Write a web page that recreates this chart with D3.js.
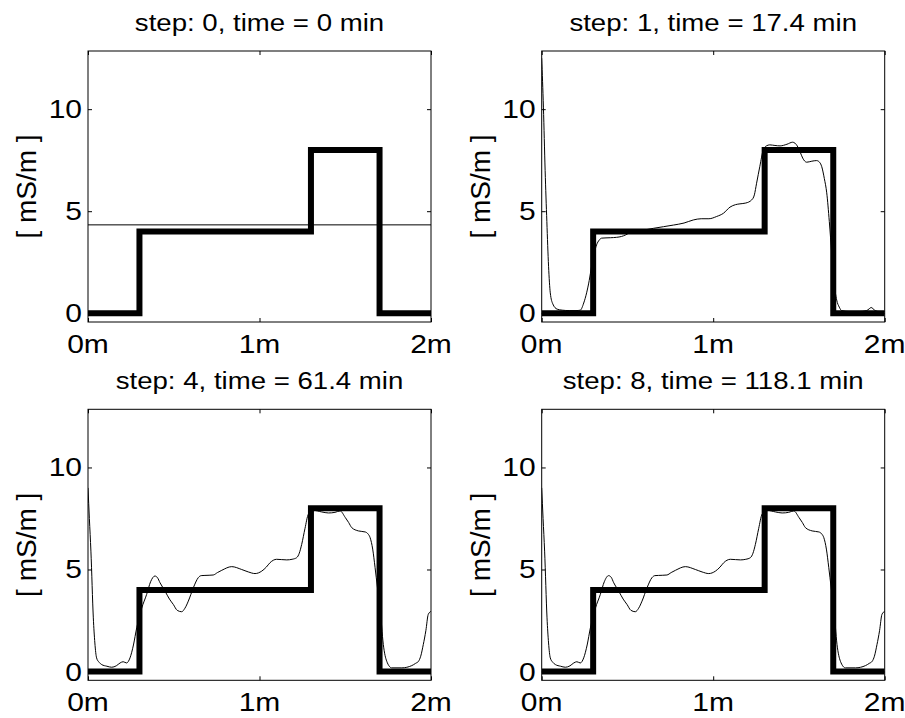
<!DOCTYPE html>
<html>
<head>
<meta charset="utf-8">
<script src="https://cdn.jsdelivr.net/npm/d3@7"></script>
<style>
  html, body { margin: 0; padding: 0; background: #fff; }
  svg { display: block; }
  text { font-family: "Liberation Sans", Arial, Helvetica, sans-serif; fill: #000; }
</style>
</head>
<body>
<svg id="chart" width="905" height="718"></svg>
<script>
// ---------------- data ----------------
const panelTitles = ["step: 0, time = 0 min", "step: 1, time = 17.4 min",
                     "step: 4, time = 61.4 min", "step: 8, time = 118.1 min"];
const yLabel = "[ mS/m ]";
const xTickValues = [0, 1, 2];
const xTickLabels = ["0m", "1m", "2m"];
const yTickValues = [0, 5, 10];
const yTickLabels = ["0", "5", "10"];

// true model (step function, value holds until the next breakpoint)
const trueX = [0, 0.3, 1.3, 1.7, 2];
const trueV = [0, 4, 8, 0, 0];

// reconstructions
const recon0X = [0, 2];
const recon0V = [4.33, 4.33];

const recon1X = [0, 0.01, 0.02, 0.03, 0.04, 0.05, 0.065, 0.09, 0.12, 0.16, 0.2, 0.225, 0.245, 0.262, 0.277, 0.291, 0.305, 0.32, 0.335, 0.35, 0.40, 0.437, 0.465, 0.49, 0.515, 0.58, 0.651, 0.71, 0.768, 0.83, 0.884, 0.93, 0.975, 1.02, 1.06, 1.098, 1.13, 1.156, 1.19, 1.224, 1.24, 1.253, 1.272, 1.292, 1.31, 1.33, 1.36, 1.39, 1.43, 1.463, 1.49, 1.507, 1.522, 1.545, 1.575, 1.603, 1.62, 1.633, 1.648, 1.662, 1.677, 1.691, 1.705, 1.72, 1.735, 1.749, 1.798, 1.85, 1.895, 1.91, 1.921, 1.932, 1.944, 1.97, 2.0];
const recon1V = [12.5, 10.1, 7.0, 4.5, 2.3, 1.0, 0.45, 0.2, 0.15, 0.13, 0.13, 0.15, 0.5, 1.0, 1.6, 2.3, 2.9, 3.35, 3.58, 3.68, 3.7, 3.72, 3.76, 3.84, 3.95, 4.05, 4.16, 4.24, 4.32, 4.42, 4.57, 4.63, 4.63, 4.74, 4.9, 5.2, 5.32, 5.36, 5.4, 5.55, 5.8, 6.37, 7.2, 8.0, 8.2, 8.25, 8.22, 8.2, 8.28, 8.38, 8.2, 7.9, 7.6, 7.4, 7.45, 7.48, 7.4, 7.18, 6.6, 5.9, 4.5, 2.94, 1.5, 0.65, 0.3, 0.13, 0.08, 0.08, 0.13, 0.22, 0.28, 0.22, 0.13, 0.08, 0.08];

const recon4X = [0, 0.008, 0.017, 0.031, 0.04, 0.05, 0.065, 0.08, 0.11, 0.138, 0.165, 0.187, 0.205, 0.225, 0.245, 0.265, 0.284, 0.3, 0.313, 0.342, 0.365, 0.39, 0.405, 0.42, 0.449, 0.475, 0.498, 0.52, 0.546, 0.565, 0.585, 0.614, 0.643, 0.66, 0.682, 0.73, 0.755, 0.78, 0.838, 0.896, 0.935, 0.974, 1.013, 1.04, 1.061, 1.1, 1.159, 1.19, 1.217, 1.232, 1.246, 1.265, 1.285, 1.314, 1.363, 1.402, 1.44, 1.47, 1.5, 1.52, 1.538, 1.577, 1.616, 1.632, 1.645, 1.66, 1.674, 1.688, 1.703, 1.722, 1.742, 1.771, 1.83, 1.888, 1.91, 1.927, 1.94, 1.955, 1.97, 1.984, 2.0];
const recon4V = [9.0, 7.5, 5.9, 2.63, 1.4, 0.67, 0.45, 0.34, 0.26, 0.21, 0.28, 0.42, 0.48, 0.42, 0.67, 1.3, 2.14, 2.7, 3.1, 3.78, 4.4, 4.68, 4.6, 4.35, 3.94, 3.55, 3.28, 3.0, 2.93, 3.1, 3.45, 4.1, 4.6, 4.7, 4.71, 4.73, 4.85, 4.96, 5.14, 5.0, 4.88, 4.8, 4.92, 5.12, 5.33, 5.5, 5.47, 5.5, 5.58, 5.8, 6.23, 7.0, 7.71, 7.9, 7.82, 7.77, 7.8, 7.87, 7.55, 7.3, 7.05, 6.89, 6.84, 6.75, 6.56, 6.0, 5.09, 4.1, 3.12, 1.32, 0.5, 0.18, 0.18, 0.29, 0.4, 0.5, 0.75, 1.32, 2.0, 2.8, 2.95];

const recon8X = [0, 0.008, 0.017, 0.031, 0.04, 0.05, 0.065, 0.08, 0.11, 0.138, 0.165, 0.187, 0.205, 0.225, 0.245, 0.265, 0.284, 0.3, 0.313, 0.342, 0.365, 0.39, 0.405, 0.42, 0.449, 0.475, 0.498, 0.52, 0.546, 0.565, 0.585, 0.614, 0.643, 0.66, 0.682, 0.73, 0.755, 0.78, 0.838, 0.896, 0.935, 0.974, 1.013, 1.04, 1.061, 1.1, 1.159, 1.19, 1.217, 1.232, 1.246, 1.265, 1.285, 1.314, 1.363, 1.402, 1.44, 1.47, 1.5, 1.52, 1.538, 1.577, 1.616, 1.632, 1.645, 1.66, 1.674, 1.688, 1.703, 1.722, 1.742, 1.771, 1.83, 1.888, 1.91, 1.927, 1.94, 1.955, 1.97, 1.984, 2.0];
const recon8V = [9.0, 7.5, 5.9, 2.63, 1.4, 0.67, 0.45, 0.34, 0.26, 0.21, 0.28, 0.42, 0.48, 0.42, 0.67, 1.3, 2.14, 2.7, 3.1, 3.78, 4.4, 4.7, 4.62, 4.35, 3.94, 3.55, 3.28, 3.0, 2.93, 3.1, 3.45, 4.1, 4.6, 4.7, 4.71, 4.73, 4.85, 4.96, 5.14, 5.0, 4.88, 4.8, 4.92, 5.12, 5.33, 5.5, 5.47, 5.5, 5.58, 5.8, 6.23, 7.0, 7.71, 7.9, 7.82, 7.77, 7.8, 7.87, 7.55, 7.3, 7.05, 6.89, 6.84, 6.75, 6.56, 6.0, 5.09, 4.1, 3.12, 1.32, 0.5, 0.18, 0.18, 0.29, 0.4, 0.5, 0.75, 1.32, 2.0, 2.8, 2.95];

const reconX = [recon0X, recon1X, recon4X, recon8X];
const reconV = [recon0V, recon1V, recon4V, recon8V];

// ---------------- layout ----------------
const svg = d3.select("#chart");
const colLeft = [88, 541.7];
const plotW = 343;
const rowTop = [51, 409.3];
const plotH = 271;
const xDomain = [0, 2];
const yDomain = [-0.43, 12.85];

const titleSize = 24, titleSX = 1.15;
const tickSize = 25, tickSX = 1.2;
const labelSize = 28, labelSX = 1.0;

function stretchedText(g, x, y, str, size, sx, anchor, extra) {
  return g.append("text")
    .attr("transform", `translate(${x},${y}) scale(${sx},1)` + (extra || ""))
    .attr("text-anchor", anchor)
    .style("font-size", size + "px")
    .text(str);
}

panelTitles.forEach((title, i) => {
  const left = colLeft[i % 2];
  const top = rowTop[Math.floor(i / 2)];
  const x = d3.scaleLinear().domain(xDomain).range([left, left + plotW]);
  const y = d3.scaleLinear().domain(yDomain).range([top + plotH, top]);
  const g = svg.append("g");

  const clipId = "clip" + i;
  g.append("clipPath").attr("id", clipId)
    .append("rect").attr("x", left).attr("y", top).attr("width", plotW).attr("height", plotH);

  // ticks (inward, all four sides)
  const tl = 4;
  g.append("g").attr("transform", `translate(0,${top + plotH})`)
    .call(d3.axisBottom(x).tickValues(xTickValues).tickSize(-tl).tickFormat(""))
    .call(a => a.select(".domain").remove());
  g.append("g").attr("transform", `translate(0,${top})`)
    .call(d3.axisTop(x).tickValues(xTickValues).tickSize(-tl).tickFormat(""))
    .call(a => a.select(".domain").remove());
  g.append("g").attr("transform", `translate(${left},0)`)
    .call(d3.axisLeft(y).tickValues(yTickValues).tickSize(-tl).tickFormat(""))
    .call(a => a.select(".domain").remove());
  g.append("g").attr("transform", `translate(${left + plotW},0)`)
    .call(d3.axisRight(y).tickValues(yTickValues).tickSize(-tl).tickFormat(""))
    .call(a => a.select(".domain").remove());
  g.selectAll(".tick line").attr("stroke", "#000").attr("stroke-width", 1);

  // tick labels
  xTickValues.forEach((v, k) => {
    stretchedText(g, x(v), top + plotH + 30.5, xTickLabels[k], tickSize, tickSX, "middle");
  });
  yTickValues.forEach((v, k) => {
    stretchedText(g, left - 6, y(v) + 9, yTickLabels[k], tickSize, tickSX, "end");
  });

  // title
  stretchedText(g, left + plotW / 2, top - 20.5, title, titleSize, titleSX, "middle");
  // y label
  stretchedText(g, left - 52, top + plotH / 2, yLabel, labelSize, labelSX, "middle", " rotate(-90)");

  const plot = g.append("g").attr("clip-path", `url(#${clipId})`);

  // true model: thick step line
  const trueLine = d3.line().x((d, k) => x(trueX[k])).y((d, k) => y(trueV[k])).curve(d3.curveStepAfter);
  plot.append("path")
    .attr("d", trueLine(trueX))
    .attr("fill", "none").attr("stroke", "#000").attr("stroke-width", 6)
    .attr("stroke-linejoin", "miter");

  // reconstruction: thin line
  const rx = reconX[i], rv = reconV[i];
  const thin = d3.line().x((d, k) => x(rx[k])).y((d, k) => y(rv[k])).curve(d3.curveMonotoneX);
  plot.append("path")
    .attr("d", thin(rx))
    .attr("fill", "none").attr("stroke", "#000").attr("stroke-width", 1);

  // box
  g.append("rect").attr("x", left).attr("y", top).attr("width", plotW).attr("height", plotH)
    .attr("fill", "none").attr("stroke", "#000").attr("stroke-width", 1);
});
</script>
</body>
</html>
